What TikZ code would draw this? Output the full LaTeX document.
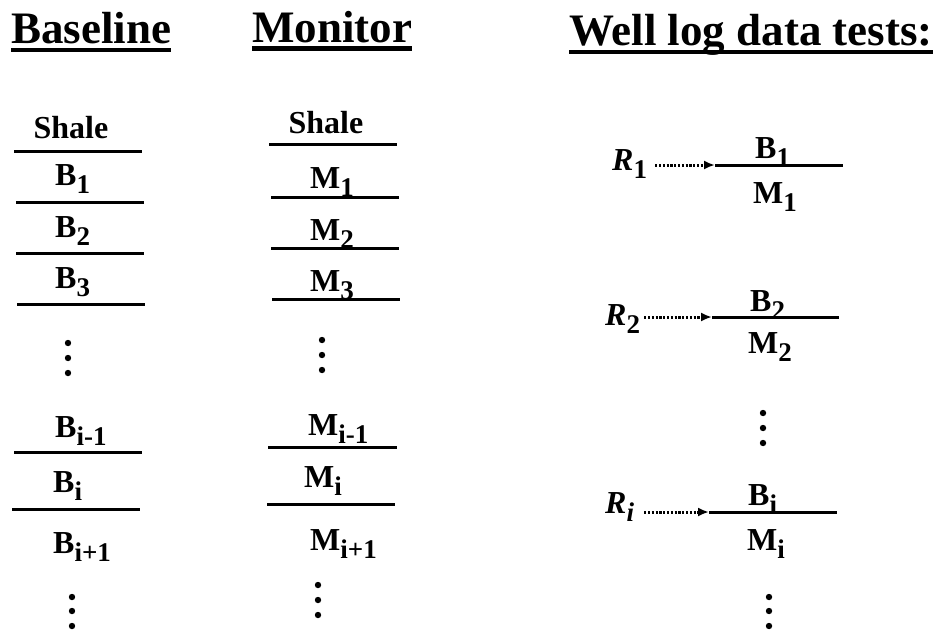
\documentclass[tikz,border=0pt]{standalone}
\usepackage{fontspec}
\setmainfont{Liberation Serif}
\usetikzlibrary{positioning, arrows.meta}
\newcommand{\lsub}[1]{\raisebox{-8pt}{\fontsize{27}{27}\selectfont #1}}

\begin{document}
\begin{tikzpicture}[x=1pt, y=-1pt,
    titlenode/.style={font=\fontsize{45}{45}\selectfont\bfseries, inner sep=0pt, anchor=base west},
    layerlabel/.style={font=\fontsize{32}{32}\selectfont\bfseries, inner sep=0pt, anchor=base west},
    ratiolabel/.style={font=\fontsize{32}{32}\selectfont\bfseries\itshape, inner sep=0pt, anchor=base west},
    bed/.style={line width=3pt},
    headrule/.style={line width=4.5pt},
    dotarrow/.style={-{Latex[length=11pt, width=9pt]}, line width=3pt, dash pattern=on 2.2pt off 1.6pt}]

    \useasboundingbox (0,0) rectangle (941,632);

    % Titles
    \node[titlenode] (t_base) at (11,43) {Baseline};
    \node[titlenode] (t_mon) at (252,42) {Monitor};
    \node[titlenode] (t_well) at (569,45) {Well log data tests:};
    \draw[headrule] ([yshift=-7pt]t_base.base west) -- ([yshift=-7pt]t_base.base east);
    \draw[headrule] ([yshift=-6.5pt]t_mon.base west) -- ([yshift=-6.5pt]t_mon.base east);
    \draw[headrule] ([yshift=-7pt]t_well.base west) -- ([yshift=-7pt]t_well.base east);

    % Baseline column
    \node[layerlabel, anchor=base] (b_shale) at (71,138) {Shale};
    \node[layerlabel] (b_1) at (55,185) {B\lsub{1}};
    \node[layerlabel] (b_2) at (55,237) {B\lsub{2}};
    \node[layerlabel] (b_3) at (55,288) {B\lsub{3}};
    \node[layerlabel] (b_im) at (55,437) {B\lsub{i-1}};
    \node[layerlabel] (b_i) at (53,492) {B\lsub{i}};
    \node[layerlabel] (b_ip) at (53,553) {B\lsub{i+1}};
    \draw[bed] (14,151) -- (142,151);
    \draw[bed] (16,202) -- (144,202);
    \draw[bed] (16,253) -- (144,253);
    \draw[bed] (17,304) -- (145,304);
    \draw[bed] (14,452) -- (142,452);
    \draw[bed] (12,509) -- (140,509);
    \foreach \y in {343,358,373} \fill (68,\y) circle (3.2);
    \foreach \y in {597,611,626} \fill (72,\y) circle (3.2);

    % Monitor column
    \node[layerlabel, anchor=base] (m_shale) at (326,133) {Shale};
    \node[layerlabel] (m_1) at (310,188) {M\lsub{1}};
    \node[layerlabel] (m_2) at (310,240) {M\lsub{2}};
    \node[layerlabel] (m_3) at (310,291) {M\lsub{3}};
    \node[layerlabel] (m_im) at (308,435) {M\lsub{i-1}};
    \node[layerlabel] (m_i) at (304,487) {M\lsub{i}};
    \node[layerlabel] (m_ip) at (310,550) {M\lsub{i+1}};
    \draw[bed] (269,144) -- (397,144);
    \draw[bed] (271,197) -- (399,197);
    \draw[bed] (271,248) -- (399,248);
    \draw[bed] (272,299) -- (400,299);
    \draw[bed] (268,447) -- (397,447);
    \draw[bed] (267,504) -- (395,504);
    \foreach \y in {340,355,370} \fill (322,\y) circle (3.2);
    \foreach \y in {585,600,615} \fill (318,\y) circle (3.2);

    % Well log data tests
    \coordinate (l_1) at (715,165);
    \coordinate (l_2) at (712,317);
    \coordinate (l_i) at (709,512);
    \draw[bed] (l_1) -- (843,165);
    \draw[bed] (l_2) -- (839,317);
    \draw[bed] (l_i) -- (837,512);
    \node[layerlabel] (q_b1) at (755,158) {B\lsub{1}};
    \node[layerlabel] (q_m1) at (753,203) {M\lsub{1}};
    \node[layerlabel] (q_b2) at (750,311) {B\lsub{2}};
    \node[layerlabel] (q_m2) at (748,353) {M\lsub{2}};
    \node[layerlabel] (q_bi) at (748,505) {B\lsub{i}};
    \node[layerlabel] (q_mi) at (747,550) {M\lsub{i}};
    \node[ratiolabel] (r_1) at (612,170) {R\lsub{\upshape 1}};
    \node[ratiolabel] (r_2) at (605,325) {R\lsub{\upshape 2}};
    \node[ratiolabel] (r_i) at (605,513) {R\lsub{i}};
    \draw[dotarrow] ([xshift=8pt]r_1.east |- l_1) -- (l_1);
    \draw[dotarrow] ([xshift=4pt]r_2.east |- l_2) -- (l_2);
    \draw[dotarrow] ([xshift=10pt]r_i.east |- l_i) -- (l_i);
    \foreach \y in {413,428,443} \fill (763,\y) circle (3.2);
    \foreach \y in {597,611,626} \fill (769,\y) circle (3.2);
\end{tikzpicture}
\end{document}
